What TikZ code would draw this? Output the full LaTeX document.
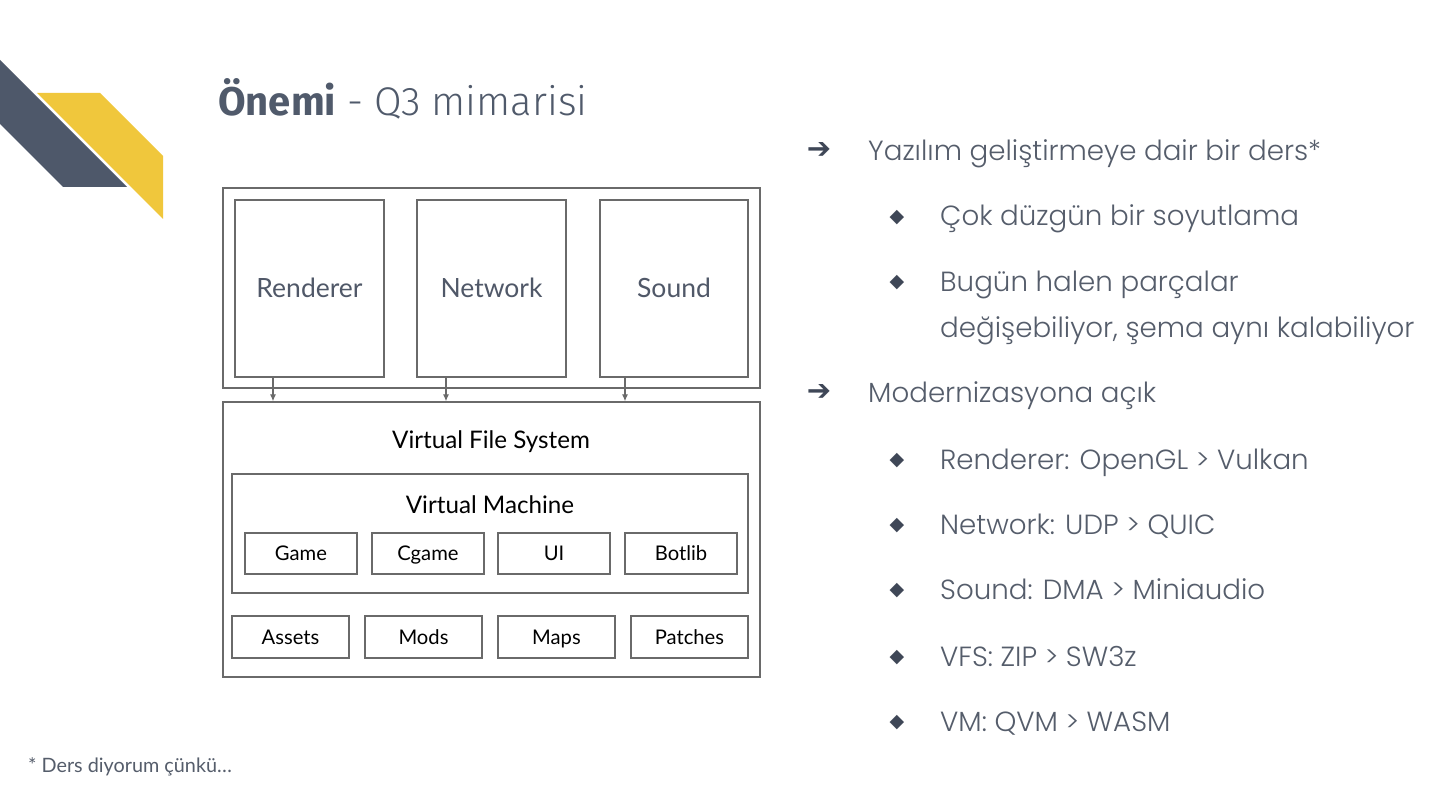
\documentclass[tikz,border=0pt]{standalone}
\usepackage{fontspec}
\setmainfont{Lato}
\newfontfamily\bulfont{Poppins}[UprightFont=* Light]
\newfontfamily\titlefont{Fira Sans}[UprightFont=* Light]
\newfontfamily\symfont{DejaVu Sans}
\usetikzlibrary{arrows.meta}
\definecolor{slate}{HTML}{4E586A}
\definecolor{gold}{HTML}{F0C73C}
\definecolor{titlecol}{HTML}{505A6B}
\definecolor{bultext}{HTML}{555D6B}
\definecolor{symcol}{HTML}{3F4757}
\definecolor{boxgray}{HTML}{6A6A6A}
\definecolor{modtext}{HTML}{505868}
\tikzset{
  blk/.style={draw=boxgray, line width=1.3pt, inner sep=0pt, text depth=0pt},
  modbox/.style={blk, font=\fontsize{26.5}{30}\selectfont, text=modtext, text height=19pt},
  lbl/.style={font=\fontsize{24.2}{28}\selectfont, text=black, inner sep=0pt, text height=17.4pt, text depth=0pt},
  smallbox/.style={blk, font=\fontsize{20.2}{24}\selectfont, text=black, text height=14.5pt},
  arr/.style={draw=boxgray, line width=1.2pt, -{Latex[length=7pt,width=6pt]}},
  bul/.style={anchor=base west, inner sep=0pt, font=\bulfont\fontsize{27.7}{45}\selectfont, text=bultext},
  arrsym/.style={anchor=center, inner sep=0pt, font=\symfont\bfseries\fontsize{29}{32}\selectfont, text=symcol},
  diasym/.style={anchor=center, inner sep=0pt, font=\symfont\fontsize{19}{22}\selectfont, text=symcol},
}
\begin{document}
\begin{tikzpicture}[x=1pt,y=-1pt]
\useasboundingbox (0,0) rectangle (1440,810);
\fill[white] (0,0) rectangle (1440,810);
% logo
\fill[slate] (0,60) -- (127,187) -- (63,187) -- (0,124) -- cycle;
\fill[gold] (37,93) -- (100,93) -- (163,156) -- (163,219) -- cycle;
% title
\node[anchor=base west, inner sep=0pt, text=titlecol, font=\titlefont\fontsize{40}{48}\selectfont] (title) at (218,116) {{\fontspec{Fira Sans Bold}Önemi} - Q3 mimarisi};
% diagram
\node[blk, minimum width=537pt, minimum height=200pt] (topbox) at (491.5,288) {};
\node[modbox, minimum width=149pt, minimum height=177pt] (ren) at (309.5,288.5) {Renderer};
\node[modbox, minimum width=149pt, minimum height=177pt] (net) at (491.5,288.5) {Network};
\node[modbox, minimum width=148pt, minimum height=177pt] (snd) at (674,288.5) {Sound};
\node[blk, minimum width=537pt, minimum height=275pt] (vfs) at (491.5,539.5) {};
\node[lbl] (vfslbl) at (491,440) {Virtual File System};
\node[blk, minimum width=516pt, minimum height=119pt] (vm) at (490,533.5) {};
\node[lbl] (vmlbl) at (490,505) {Virtual Machine};
\node[smallbox, minimum width=112pt, minimum height=41pt] (game) at (301,553.5) {Game};
\node[smallbox, minimum width=112pt, minimum height=41pt] (cgame) at (428,553.5) {Cgame};
\node[smallbox, minimum width=112pt, minimum height=41pt] (ui) at (554,553.5) {UI};
\node[smallbox, minimum width=112pt, minimum height=41pt] (botlib) at (681,553.5) {Botlib};
\node[smallbox, minimum width=117pt, minimum height=42pt] (assets) at (290.5,637) {Assets};
\node[smallbox, minimum width=117pt, minimum height=42pt] (mods) at (423.5,637) {Mods};
\node[smallbox, minimum width=117pt, minimum height=42pt] (maps) at (556.5,637) {Maps};
\node[smallbox, minimum width=117pt, minimum height=42pt] (patches) at (689.5,637) {Patches};
\draw[arr] ([xshift=-36.5pt]ren.south) -- ([xshift=-36.5pt]ren.south |- vfs.north);
\draw[arr] ([xshift=-45.5pt]net.south) -- ([xshift=-45.5pt]net.south |- vfs.north);
\draw[arr] ([xshift=-49pt]snd.south) -- ([xshift=-49pt]snd.south |- vfs.north);
% bullets
\node[arrsym] (a1) at (819,151) {➔};
\node[bul] (t1) at (868,161) {Yazılım geliştirmeye dair bir ders*};
\node[diasym] (d1) at (897,218) {◆};
\node[bul] (t2) at (940,226) {Çok düzgün bir soyutlama};
\node[diasym] (d2) at (897,283) {◆};
\node[bul] (t3) at (940,292) {Bugün halen parçalar};
\node[bul] (t3b) at (940,337) {değişebiliyor, şema aynı kalabiliyor};
\node[arrsym] (a2) at (819,392) {➔};
\node[bul] (t4) at (868,402) {Modernizasyona açık};
\node[diasym] (d3) at (897,461) {◆};
\node[bul] (t5) at (940,469) {Renderer: OpenGL > Vulkan};
\node[diasym] (d4) at (897,526) {◆};
\node[bul] (t6) at (940,534) {Network: UDP > QUIC};
\node[diasym] (d5) at (897,591) {◆};
\node[bul] (t7) at (940,599) {Sound: DMA > Miniaudio};
\node[diasym] (d6) at (897,658) {◆};
\node[bul] (t8) at (940,666) {VFS: ZIP > SW3z};
\node[diasym] (d7) at (897,723) {◆};
\node[bul] (t9) at (940,731) {VM: QVM > WASM};
% footnote
\node[anchor=west, inner sep=0pt, text=bultext, font=\fontsize{19.8}{23}\selectfont] (foot) at (28,767) {* Ders diyorum çünkü…};
\end{tikzpicture}
\end{document}
